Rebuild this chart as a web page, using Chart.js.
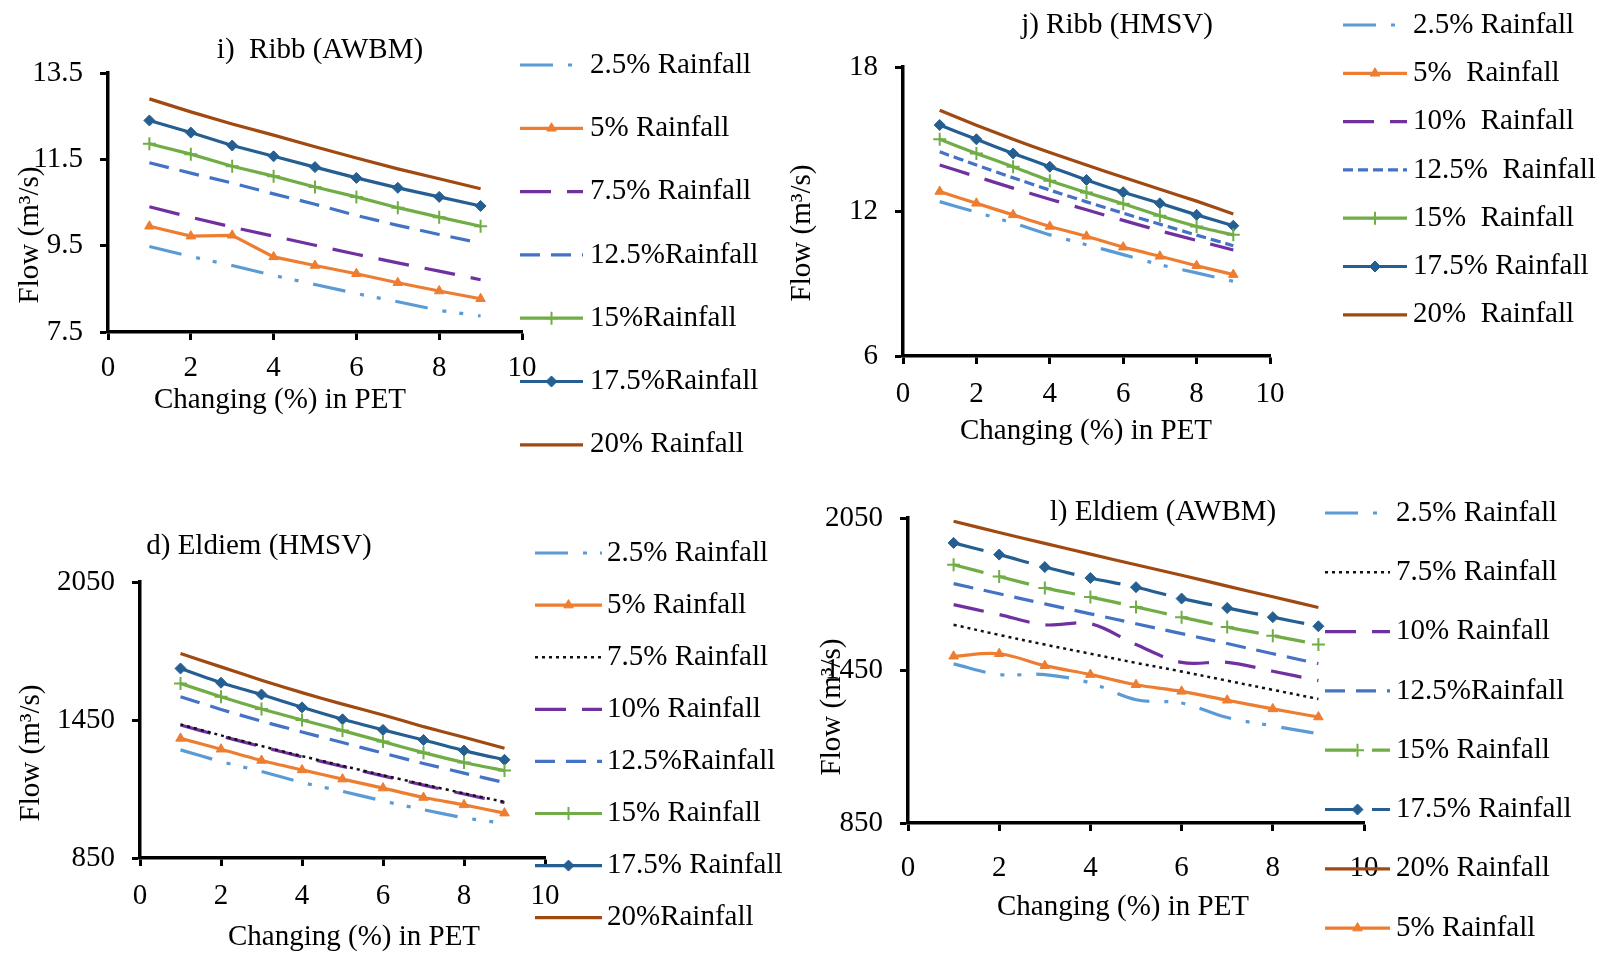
<!DOCTYPE html>
<html>
<head>
<meta charset="utf-8">
<title>Flow vs change in PET</title>
<script src="https://cdn.jsdelivr.net/npm/chart.js@4.4.1/dist/chart.umd.min.js"></script>
<style>
    body { margin: 0; background: #ffffff; }
    #page { position: relative; width: 1607px; height: 956px; overflow: hidden; background: #ffffff; }
    #page canvas { position: absolute; }
</style>
</head>
<body>
<div id="page">
    <canvas id="ribbAwbmChart"></canvas>
    <canvas id="ribbHmsvChart"></canvas>
    <canvas id="eldiemHmsvChart"></canvas>
    <canvas id="eldiemAwbmChart"></canvas>
</div>

<script>
// Change (%) in PET for every series, and the x tick labels
const petChange = [1, 2, 3, 4, 5, 6, 7, 8, 9];
const xTicks = [0, 2, 4, 6, 8, 10];

// i) Ribb (AWBM)
const ribbAwbmTicks = [7.5, 9.5, 11.5, 13.5];
const ribbAwbm2_5  = [9.48, 9.25, 9.04, 8.81, 8.60, 8.39, 8.20, 8.00, 7.87];
const ribbAwbm5    = [9.95, 9.72, 9.74, 9.24, 9.04, 8.85, 8.64, 8.45, 8.27];
const ribbAwbm7_5  = [10.40, 10.16, 9.93, 9.72, 9.51, 9.30, 9.10, 8.91, 8.71];
const ribbAwbm12_5 = [11.42, 11.18, 10.95, 10.70, 10.46, 10.20, 9.97, 9.76, 9.56];
const ribbAwbm15   = [11.86, 11.62, 11.34, 11.11, 10.86, 10.63, 10.38, 10.16, 9.95];
const ribbAwbm17_5 = [12.40, 12.12, 11.82, 11.57, 11.32, 11.07, 10.84, 10.63, 10.42];
const ribbAwbm20   = [12.90, 12.60, 12.32, 12.06, 11.79, 11.53, 11.28, 11.05, 10.82];

// j) Ribb (HMSV)
const ribbHmsvTicks = [6, 12, 18];
const ribbHmsv2_5  = [12.41, 11.97, 11.52, 11.03, 10.62, 10.21, 9.79, 9.45, 9.10];
const ribbHmsv5    = [12.83, 12.34, 11.86, 11.38, 10.97, 10.52, 10.14, 9.75, 9.38];
const ribbHmsv10   = [13.93, 13.45, 12.97, 12.51, 12.07, 11.63, 11.20, 10.80, 10.40];
const ribbHmsv12_5 = [14.48, 13.93, 13.40, 12.89, 12.40, 11.93, 11.47, 11.02, 10.58];
const ribbHmsv15   = [15.00, 14.41, 13.86, 13.28, 12.79, 12.32, 11.82, 11.38, 11.03];
const ribbHmsv17_5 = [15.59, 15.00, 14.41, 13.86, 13.31, 12.80, 12.34, 11.86, 11.41];
const ribbHmsv20   = [16.20, 15.58, 15.00, 14.45, 13.93, 13.42, 12.92, 12.43, 11.90];

// d) Eldiem (HMSV)
const eldiemHmsvTicks = [850, 1450, 2050];
const eldiemHmsv2_5  = [1320, 1269, 1226, 1178, 1140, 1098, 1060, 1025, 1000];
const eldiemHmsv5    = [1370, 1323, 1274, 1233, 1193, 1154, 1113, 1081, 1045];
const eldiemHmsv7_5  = [1431, 1383, 1337, 1293, 1251, 1210, 1170, 1131, 1094];
const eldiemHmsv10   = [1428, 1380, 1334, 1290, 1248, 1207, 1167, 1128, 1091];
const eldiemHmsv12_5 = [1551, 1496, 1445, 1398, 1352, 1306, 1261, 1219, 1178];
const eldiemHmsv15   = [1609, 1551, 1498, 1450, 1404, 1356, 1308, 1265, 1230];
const eldiemHmsv17_5 = [1674, 1612, 1561, 1505, 1453, 1407, 1363, 1317, 1277];
const eldiemHmsv20   = [1739, 1681, 1623, 1569, 1519, 1472, 1421, 1375, 1327];

// l) Eldiem (AWBM)
const eldiemAwbmTicks = [850, 1450, 2050];
const eldiemAwbm2_5  = [1476, 1434, 1434, 1401, 1335, 1322, 1265, 1232, 1201];
const eldiemAwbm5    = [1506, 1516, 1469, 1434, 1394, 1368, 1333, 1299, 1267];
const eldiemAwbm7_5  = [1630, 1590, 1552, 1516, 1480, 1446, 1410, 1374, 1338];
const eldiemAwbm10   = [1709, 1670, 1630, 1634, 1552, 1482, 1482, 1447, 1410];
const eldiemAwbm12_5 = [1792, 1752, 1712, 1673, 1634, 1595, 1556, 1516, 1477];
const eldiemAwbm15   = [1866, 1820, 1775, 1739, 1700, 1660, 1621, 1587, 1552];
const eldiemAwbm17_5 = [1952, 1906, 1857, 1814, 1778, 1733, 1696, 1660, 1624];
const eldiemAwbm20   = [2037, 1993, 1950, 1908, 1866, 1825, 1782, 1740, 1698];


const FONT_FAMILY = '"Liberation Serif", "Times New Roman", serif';
const FONT_SIZE = 29;
const TEXT_COLOR = '#000000';
const X_TITLE = 'Changing (%) in PET';
const Y_TITLE = 'Flow (m\u00b3/s)';

// Line looks (Excel office palette)
const DASH_DOT_DOT = [33, 15, 4, 13, 4, 15];
const LONG_DASH = [31, 16];
const DASH = [20, 11];
const SHORT_DASH = [10, 5];
const DOTS = [3, 4];

const STYLE = {
    r2_5:      { color: '#5B9BD5', dash: DASH_DOT_DOT },
    r5:        { color: '#ED7D31', dash: [], marker: 'triangle' },
    r7_5:      { color: '#7030A0', dash: LONG_DASH },
    r7_5dot:   { color: '#111111', dash: DOTS, width: 2.5 },
    r10:       { color: '#7030A0', dash: LONG_DASH },
    r12_5:     { color: '#4472C4', dash: DASH },
    r12_5sh:   { color: '#4472C4', dash: SHORT_DASH },
    r15:       { color: '#70AD47', dash: [], marker: 'cross' },
    r15dash:   { color: '#70AD47', dash: LONG_DASH, marker: 'cross' },
    r17_5:     { color: '#255E91', dash: [], marker: 'rectRot' },
    r17_5dash: { color: '#255E91', dash: LONG_DASH, marker: 'rectRot' },
    r20:       { color: '#A04A12', dash: [] }
};


// Build one dataset from a label, its values and a line look
function Series(label, values, look, tension) {
    const st = STYLE[look];
    return {
        label: label,
        data: petChange.map((x, i) => ({ x: x, y: values[i] })),
        borderColor: st.color,
        backgroundColor: st.color,
        borderWidth: st.width || 3.2,
        borderDash: st.dash,
        tension: tension,
        fill: false,
        pointStyle: st.marker || 'circle',
        pointRadius: st.marker ? (st.marker === 'cross' ? 6.5 : 5.5) : 0,
        pointBackgroundColor: st.color,
        pointBorderColor: st.color,
        pointBorderWidth: st.marker === 'cross' ? 2 : 1
    };
}


// Draws the panel title, axis titles and the side legend
const panelDecor = {
    id: 'panelDecor',
    afterDraw(chart, args, opts) {
        const ctx = chart.ctx;
        const ox = opts.origin[0];
        const oy = opts.origin[1];
        const font = FONT_SIZE + 'px ' + FONT_FAMILY;

        ctx.save();
        ctx.fillStyle = TEXT_COLOR;
        ctx.font = font;
        ctx.textBaseline = 'middle';
        ctx.textAlign = 'center';
        ctx.fillText(opts.title.text, opts.title.x - ox, opts.title.y - oy);
        ctx.fillText(X_TITLE, opts.xTitle.x - ox, opts.xTitle.y - oy);

        ctx.save();
        ctx.translate(opts.yTitle.x - ox, opts.yTitle.y - oy);
        ctx.rotate(-Math.PI / 2);
        ctx.fillText(Y_TITLE, 0, 0);
        ctx.restore();

        // Legend entries, one per dataset
        const lg = opts.legend;
        chart.data.datasets.forEach((ds, i) => {
            const y = lg.y0 + i * lg.dy - oy;
            ctx.save();
            ctx.strokeStyle = ds.borderColor;
            ctx.lineWidth = ds.borderWidth;
            ctx.setLineDash(ds.borderDash || []);
            ctx.beginPath();
            ctx.moveTo(lg.x0 - ox, y);
            ctx.lineTo(lg.x1 - ox, y);
            ctx.stroke();
            ctx.setLineDash([]);
            if (ds.pointRadius > 0) {
                ctx.fillStyle = ds.pointBackgroundColor;
                ctx.strokeStyle = ds.pointBorderColor;
                ctx.lineWidth = ds.pointBorderWidth;
                Chart.helpers.drawPoint(ctx, {
                    pointStyle: ds.pointStyle,
                    radius: ds.pointRadius,
                    rotation: 0,
                    borderWidth: ds.pointBorderWidth
                }, (lg.x0 + lg.x1) / 2 - ox, y);
            }
            ctx.restore();

            ctx.textAlign = 'left';
            ctx.fillText(ds.label, lg.tx - ox, y);
        });
        ctx.restore();
    }
};


// Create one panel. box = canvas on page, area = plot area on page
function MakePanel(id, box, area, yMin, yMax, yTickValues, datasets, decor, xLabelPad) {
    const cv = document.getElementById(id);
    cv.width = box.w;
    cv.height = box.h;
    cv.style.left = box.x + 'px';
    cv.style.top = box.y + 'px';
    cv.style.width = box.w + 'px';
    cv.style.height = box.h + 'px';

    const xAxisHeight = 60;
    const tickFont = { family: FONT_FAMILY, size: FONT_SIZE };
    const axisGrid = {
        display: true,
        drawOnChartArea: false,
        drawTicks: true,
        tickLength: 8,
        tickWidth: 3,
        tickColor: '#000000',
        color: '#000000'
    };

    decor.origin = [box.x, box.y];

    return new Chart(cv, {
        type: 'line',
        data: { datasets: datasets },
        plugins: [panelDecor],
        options: {
            responsive: false,
            animation: false,
            events: [],
            layout: {
                padding: {
                    left: 0,
                    top: area.t - box.y,
                    right: box.x + box.w - area.r,
                    bottom: box.y + box.h - area.b - xAxisHeight
                }
            },
            plugins: {
                legend: { display: false },
                tooltip: { enabled: false },
                title: { display: false },
                panelDecor: decor
            },
            scales: {
                x: {
                    type: 'linear',
                    min: 0,
                    max: 10,
                    afterBuildTicks: s => { s.ticks = xTicks.map(v => ({ value: v })); },
                    afterFit: s => { s.height = xAxisHeight; },
                    ticks: {
                        font: tickFont,
                        color: TEXT_COLOR,
                        padding: xLabelPad,
                        maxRotation: 0,
                        callback: v => String(v)
                    },
                    grid: axisGrid,
                    border: { display: true, color: '#000000', width: 3.5 }
                },
                y: {
                    type: 'linear',
                    min: yMin,
                    max: yMax,
                    afterBuildTicks: s => { s.ticks = yTickValues.map(v => ({ value: v })); },
                    afterFit: s => { s.width = area.l - box.x; },
                    ticks: {
                        font: tickFont,
                        color: TEXT_COLOR,
                        padding: 17,
                        callback: v => String(v)
                    },
                    grid: axisGrid,
                    border: { display: true, color: '#000000', width: 3.5 }
                }
            }
        }
    });
}


//====================== i) RIBB (AWBM) ========================
MakePanel('ribbAwbmChart',
    { x: 0, y: 0, w: 790, h: 470 },
    { l: 108, t: 73, r: 522, b: 332 },
    7.5, 13.5, ribbAwbmTicks,
    [
        Series('2.5% Rainfall', ribbAwbm2_5, 'r2_5', 0),
        Series('5% Rainfall', ribbAwbm5, 'r5', 0),
        Series('7.5% Rainfall', ribbAwbm7_5, 'r7_5', 0),
        Series('12.5%Rainfall', ribbAwbm12_5, 'r12_5', 0),
        Series('15%Rainfall', ribbAwbm15, 'r15', 0),
        Series('17.5%Rainfall', ribbAwbm17_5, 'r17_5', 0),
        Series('20% Rainfall', ribbAwbm20, 'r20', 0)
    ],
    {
        title: { text: 'i)  Ribb (AWBM)', x: 320, y: 50 },
        xTitle: { x: 280, y: 400 },
        yTitle: { x: 30, y: 235 },
        legend: { x0: 520, x1: 583, tx: 590, y0: 65, dy: 63.3 }
    },
    11);

//====================== j) RIBB (HMSV) ========================
MakePanel('ribbHmsvChart',
    { x: 790, y: 0, w: 817, h: 470 },
    { l: 903, t: 67, r: 1270, b: 356 },
    6, 18, ribbHmsvTicks,
    [
        Series('2.5% Rainfall', ribbHmsv2_5, 'r2_5', 0.2),
        Series('5%  Rainfall', ribbHmsv5, 'r5', 0.2),
        Series('10%  Rainfall', ribbHmsv10, 'r10', 0.2),
        Series('12.5%  Rainfall', ribbHmsv12_5, 'r12_5sh', 0.2),
        Series('15%  Rainfall', ribbHmsv15, 'r15', 0.2),
        Series('17.5% Rainfall', ribbHmsv17_5, 'r17_5', 0.2),
        Series('20%  Rainfall', ribbHmsv20, 'r20', 0.2)
    ],
    {
        title: { text: 'j) Ribb (HMSV)', x: 1117, y: 25 },
        xTitle: { x: 1086, y: 431 },
        yTitle: { x: 802, y: 233 },
        legend: { x0: 1343, x1: 1407, tx: 1413, y0: 25, dy: 48.3 }
    },
    13);

//====================== d) ELDIEM (HMSV) ========================
MakePanel('eldiemHmsvChart',
    { x: 0, y: 470, w: 800, h: 486 },
    { l: 140, t: 582, r: 545, b: 858 },
    850, 2050, eldiemHmsvTicks,
    [
        Series('2.5% Rainfall', eldiemHmsv2_5, 'r2_5', 0.2),
        Series('5% Rainfall', eldiemHmsv5, 'r5', 0.2),
        Series('7.5% Rainfall', eldiemHmsv7_5, 'r7_5dot', 0.2),
        Series('10% Rainfall', eldiemHmsv10, 'r10', 0.2),
        Series('12.5%Rainfall', eldiemHmsv12_5, 'r12_5', 0.2),
        Series('15% Rainfall', eldiemHmsv15, 'r15', 0.2),
        Series('17.5% Rainfall', eldiemHmsv17_5, 'r17_5', 0.2),
        Series('20%Rainfall', eldiemHmsv20, 'r20', 0.2)
    ],
    {
        title: { text: 'd) Eldiem (HMSV)', x: 259, y: 546 },
        xTitle: { x: 354, y: 937 },
        yTitle: { x: 31, y: 753 },
        legend: { x0: 535, x1: 602, tx: 607, y0: 553, dy: 52.1 }
    },
    13);

//====================== l) ELDIEM (AWBM) ========================
MakePanel('eldiemAwbmChart',
    { x: 800, y: 470, w: 807, h: 486 },
    { l: 908, t: 518, r: 1364, b: 823 },
    850, 2050, eldiemAwbmTicks,
    [
        Series('2.5% Rainfall', eldiemAwbm2_5, 'r2_5', 0.35),
        Series('7.5% Rainfall', eldiemAwbm7_5, 'r7_5dot', 0.35),
        Series('10% Rainfall', eldiemAwbm10, 'r10', 0.35),
        Series('12.5%Rainfall', eldiemAwbm12_5, 'r12_5', 0.35),
        Series('15% Rainfall', eldiemAwbm15, 'r15dash', 0.35),
        Series('17.5% Rainfall', eldiemAwbm17_5, 'r17_5dash', 0.35),
        Series('20% Rainfall', eldiemAwbm20, 'r20', 0.35),
        Series('5% Rainfall', eldiemAwbm5, 'r5', 0.35)
    ],
    {
        title: { text: 'l) Eldiem (AWBM)', x: 1163, y: 512 },
        xTitle: { x: 1123, y: 907 },
        yTitle: { x: 832, y: 707 },
        legend: { x0: 1325, x1: 1390, tx: 1396, y0: 513, dy: 59.3 }
    },
    20);
</script>
</body>
</html>
